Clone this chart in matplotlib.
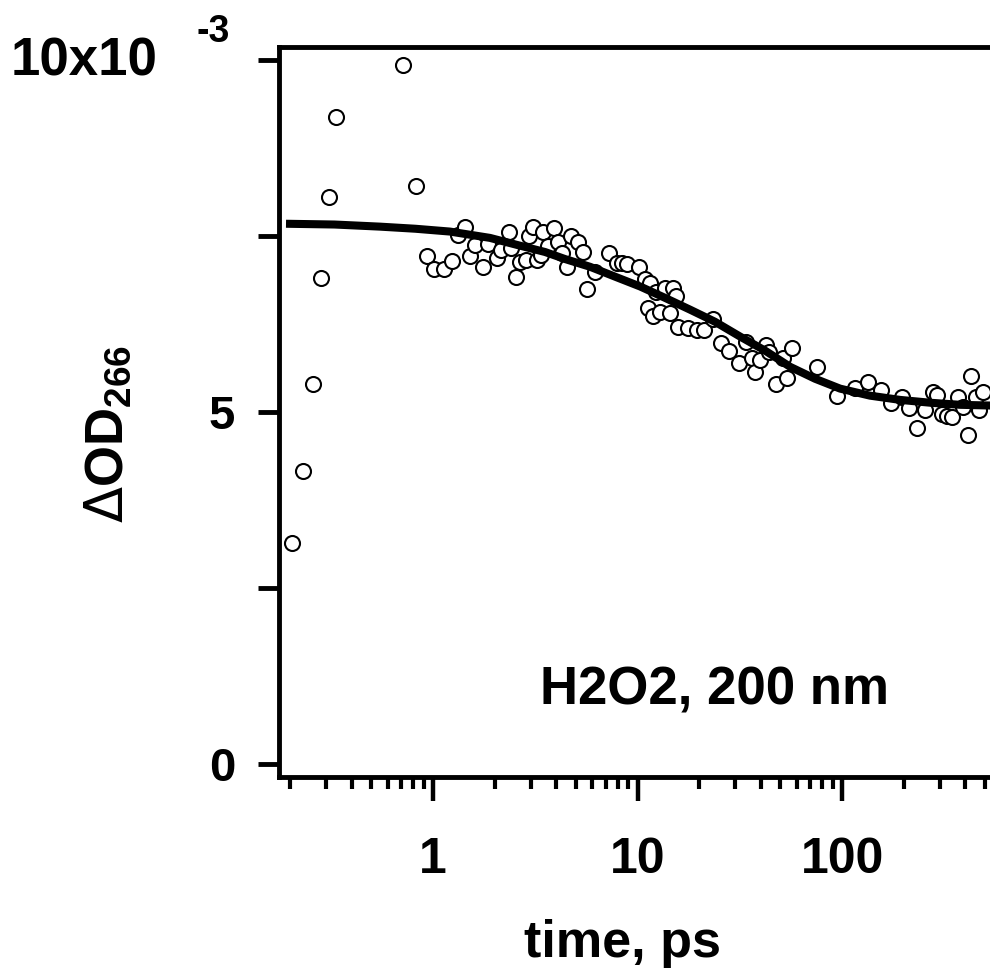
import matplotlib
matplotlib.use('Agg')
import matplotlib.pyplot as plt
from matplotlib.ticker import LogLocator, NullFormatter

# transient absorption at 266 nm, H2O2 pumped at 200 nm (units of 1e-3)
time_ps = [0.204, 0.231, 0.259, 0.283, 0.310, 0.335, 0.713, 0.826, 0.935, 1.01,
           1.13, 1.24, 1.33, 1.43, 1.52, 1.60, 1.76, 1.86, 2.06, 2.15,
           2.35, 2.41, 2.55, 2.66, 2.85, 2.95, 3.08, 3.23, 3.37, 3.45,
           3.65, 3.91, 4.09, 4.27, 4.52, 4.73, 5.12, 5.41, 5.66, 6.20,
           7.25, 7.94, 8.40, 8.89, 10.2, 10.9, 11.5, 12.3, 13.6, 14.9,
           15.4, 11.3, 11.9, 12.9, 14.4, 15.8, 17.7, 19.5, 21.1, 23.4,
           25.6, 28.0, 31.4, 33.9, 36.3, 37.6, 39.7, 42.5, 44.0, 47.6,
           51.5, 53.8, 57.0, 75.5, 94.5, 116, 134, 155, 174, 197,
           213, 233, 255, 279, 291, 308, 326, 345, 369, 391,
           413, 427, 452, 468, 489]
dod = [3.14, 4.16, 5.40, 6.90, 8.05, 9.19, 9.93, 8.21, 7.22, 7.03,
       7.03, 7.14, 7.51, 7.63, 7.22, 7.37, 7.06, 7.39, 7.19, 7.30,
       7.56, 7.32, 6.92, 7.13, 7.16, 7.49, 7.63, 7.16, 7.23, 7.56,
       7.36, 7.61, 7.41, 7.26, 7.05, 7.49, 7.41, 7.27, 6.75, 6.99,
       7.26, 7.12, 7.12, 7.10, 7.05, 6.88, 6.83, 6.70, 6.76, 6.76,
       6.65, 6.48, 6.36, 6.42, 6.41, 6.21, 6.19, 6.16, 6.16, 6.32,
       5.98, 5.87, 5.70, 5.99, 5.77, 5.57, 5.74, 5.95, 5.85, 5.40,
       5.77, 5.48, 5.91, 5.63, 5.23, 5.34, 5.43, 5.31, 5.13, 5.21,
       5.06, 4.77, 5.03, 5.28, 5.24, 4.97, 4.94, 4.93, 5.21, 5.07,
       4.67, 5.51, 5.21, 5.03, 5.28]

fit_time = [0.2, 0.33, 0.55, 0.82, 1.21, 1.90, 2.66, 3.53, 4.42, 5.86,
            7.76, 10.3, 13.6, 18.1, 23.9, 31.7, 42.0, 55.7, 73.8, 97.8,
            137, 192, 269, 378, 529]
fit_dod = [7.67, 7.66, 7.63, 7.60, 7.56, 7.47, 7.36, 7.27, 7.17, 7.06,
           6.92, 6.78, 6.62, 6.45, 6.28, 6.07, 5.87, 5.64, 5.47, 5.33,
           5.23, 5.17, 5.13, 5.10, 5.09]

plt.rcParams['font.family'] = 'Liberation Sans'
plt.rcParams['font.weight'] = 'bold'
plt.rcParams['mathtext.fontset'] = 'custom'
plt.rcParams['mathtext.rm'] = 'DejaVu Sans:weight=normal'
plt.rcParams['mathtext.bf'] = 'Liberation Sans:bold'

fig = plt.figure(figsize=(9.9, 9.72), dpi=100)
ax = fig.add_axes([0.2818, 0.2006, 0.7182, 0.7510])

ax.plot(time_ps, dod, 'o', ms=10.8, mfc='white', mec='black', mew=1.5, zorder=2)
ax.plot(fit_time, fit_dod, '-', color='black', lw=5.8, zorder=3)

ax.set_xscale('log')
ax.set_xlim(0.1766, 529)
ax.set_ylim(-0.185, 10.18)

ax.set_xticks([1, 10, 100])
ax.set_xticklabels(['1', '10', '100'])
ax.xaxis.set_minor_locator(LogLocator(base=10, subs=range(2, 10)))
ax.xaxis.set_minor_formatter(NullFormatter())
ax.set_yticks([0, 2.5, 5, 7.5, 10])
ax.set_yticklabels(['0', '', '5', '', ''])

ax.tick_params(axis='x', which='major', direction='out', length=17, width=3.2,
               pad=26, labelsize=36)
ax.tick_params(axis='x', which='minor', direction='out', length=8.5, width=3)
ax.tick_params(axis='y', which='major', direction='out', length=15, width=3.5,
               pad=16.5, labelsize=34)

ax.spines['right'].set_visible(False)
for s in ['left', 'top', 'bottom']:
    ax.spines[s].set_linewidth(3.5)

fig.text(157 / 990, 1 - 62 / 972, '10x10', ha='right', va='center', fontsize=38)
fig.text(213 / 990, 1 - 32 / 972, '-3', ha='center', va='center', fontsize=27)
fig.text(714 / 990, 1 - 690 / 972, 'H2O2, 200 nm', ha='center', va='center', fontsize=38)
fig.text(623 / 990, 1 - 957 / 972, 'time, ps', ha='center', va='baseline', fontsize=37.5)
fig.text(108 / 990, 1 - 434 / 972, r'$\Delta$' + r'$\mathbf{OD_{266}}$', rotation=90,
         ha='center', va='center', fontsize=38)

fig.savefig('out.png', dpi=100)
